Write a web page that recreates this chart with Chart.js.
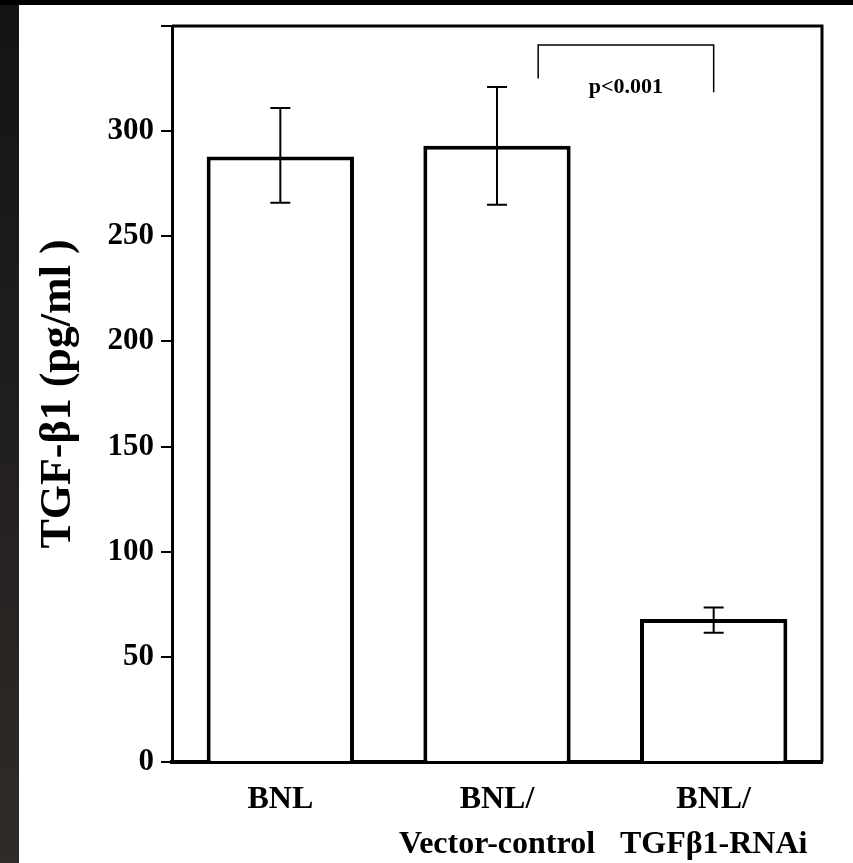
<!DOCTYPE html>
<html>
<head>
<meta charset="utf-8">
<script src="https://cdn.jsdelivr.net/npm/chart.js@4.4.1/dist/chart.umd.min.js"></script>
<style>
  html, body { margin: 0; padding: 0; background: #fff; }
  #wrap { position: relative; width: 853px; height: 863px; }
</style>
</head>
<body>
<div id="wrap"><canvas id="tgf"></canvas></div>
<script>
// values
const categories = [["BNL"], ["BNL/", "Vector-control"], ["BNL/", "TGF\u03b21-RNAi"]];
const tgfValues = [288, 293, 68];
const errUp = [23, 28, 5.5];
const errDown = [22, 28, 6.5];
const yTicks = [0, 50, 100, 150, 200, 250, 300, 350];
const yLabel = "TGF-\u03b21 (pg/ml )";

// significance bracket, in data units (x = category index)
const sigText = "p<0.001";
const sigFrom = 1.19, sigTo = 2.0;
const sigTop = 341, sigLeftEnd = 325, sigRightEnd = 318.5, sigTextY = 321;

const SERIF = '"Liberation Serif", "Times New Roman", serif';

const backdrop = {
  id: "backdrop",
  beforeDraw(chart) {
    const { ctx, width, height } = chart;
    ctx.save();
    ctx.fillStyle = "#fff";
    ctx.fillRect(0, 0, width, height);
    const g = ctx.createLinearGradient(0, 0, 0, height);
    g.addColorStop(0, "#141414");
    g.addColorStop(1, "#2f2b29");
    ctx.fillStyle = g;
    ctx.fillRect(0, 0, 19, height);
    ctx.fillStyle = "#000";
    ctx.fillRect(0, 0, width, 5);
    ctx.restore();
  },
};

const frame = {
  id: "frame",
  afterDraw(chart) {
    const { ctx, chartArea: a } = chart;
    ctx.save();
    ctx.strokeStyle = "#000";
    ctx.lineWidth = 3;
    ctx.beginPath();
    ctx.moveTo(a.left, a.top);
    ctx.lineTo(a.right, a.top);
    ctx.lineTo(a.right, a.bottom);
    ctx.stroke();
    ctx.restore();
  },
};

const errorBars = {
  id: "errorBars",
  afterDatasetsDraw(chart) {
    const { ctx } = chart;
    const y = chart.scales.y;
    const meta = chart.getDatasetMeta(0);
    ctx.save();
    ctx.strokeStyle = "#000";
    ctx.lineWidth = 2;
    meta.data.forEach((bar, i) => {
      const top = y.getPixelForValue(tgfValues[i] + errUp[i]);
      const bot = y.getPixelForValue(tgfValues[i] - errDown[i]);
      ctx.beginPath();
      ctx.moveTo(bar.x, top);
      ctx.lineTo(bar.x, bot);
      ctx.moveTo(bar.x - 10, top);
      ctx.lineTo(bar.x + 10, top);
      ctx.moveTo(bar.x - 10, bot);
      ctx.lineTo(bar.x + 10, bot);
      ctx.stroke();
    });
    ctx.restore();
  },
};

const bracket = {
  id: "bracket",
  afterDraw(chart) {
    const { ctx } = chart;
    const x = chart.scales.x, y = chart.scales.y;
    const x1 = x.getPixelForValue(sigFrom), x2 = x.getPixelForValue(sigTo);
    ctx.save();
    ctx.strokeStyle = "#000";
    ctx.lineWidth = 1.5;
    ctx.beginPath();
    ctx.moveTo(x1, y.getPixelForValue(sigLeftEnd));
    ctx.lineTo(x1, y.getPixelForValue(sigTop));
    ctx.lineTo(x2, y.getPixelForValue(sigTop));
    ctx.lineTo(x2, y.getPixelForValue(sigRightEnd));
    ctx.stroke();
    ctx.fillStyle = "#000";
    ctx.font = "bold 22px " + SERIF;
    ctx.textAlign = "center";
    ctx.textBaseline = "middle";
    ctx.fillText(sigText, (x1 + x2) / 2, y.getPixelForValue(sigTextY));
    ctx.restore();
  },
};

new Chart(document.getElementById("tgf").getContext("2d"), {
  type: "bar",
  data: {
    labels: categories,
    datasets: [{
      data: tgfValues,
      backgroundColor: "#fff",
      borderColor: "#000",
      borderWidth: 4,
      barPercentage: 0.68,
      categoryPercentage: 1,
    }],
  },
  options: {
    responsive: true,
    maintainAspectRatio: false,
    animation: false,
    layout: { padding: { left: 19, top: 26, right: 31, bottom: 0 } },
    plugins: { legend: { display: false }, tooltip: { enabled: false } },
    scales: {
      x: {
        grid: { display: false, drawTicks: false },
        border: { display: true, color: "#000", width: 4 },
        ticks: {
          color: "#000",
          padding: 16,
          maxRotation: 0,
          autoSkip: false,
          font: { family: SERIF, size: 32, weight: "bold", lineHeight: 1.38 },
        },
        afterFit: (s) => { s.height = 101; },
      },
      y: {
        min: 0,
        max: 350,
        afterBuildTicks: (s) => { s.ticks = yTicks.map((v) => ({ value: v })); },
        grid: { drawOnChartArea: false, drawTicks: true, tickLength: 11, color: "#000", lineWidth: 2 },
        border: { display: true, color: "#000", width: 3 },
        ticks: {
          color: "#000",
          padding: 7,
          font: { family: SERIF, size: 31, weight: "bold" },
          callback: (v) => (v === 350 ? "" : v),
        },
        title: {
          display: true,
          text: yLabel,
          color: "#000",
          padding: { top: 13, bottom: 0 },
          font: { family: SERIF, size: 44, weight: "bold" },
        },
        afterFit: (s) => { s.width = 153; },
      },
    },
  },
  plugins: [backdrop, errorBars, frame, bracket],
});
</script>
</body>
</html>
